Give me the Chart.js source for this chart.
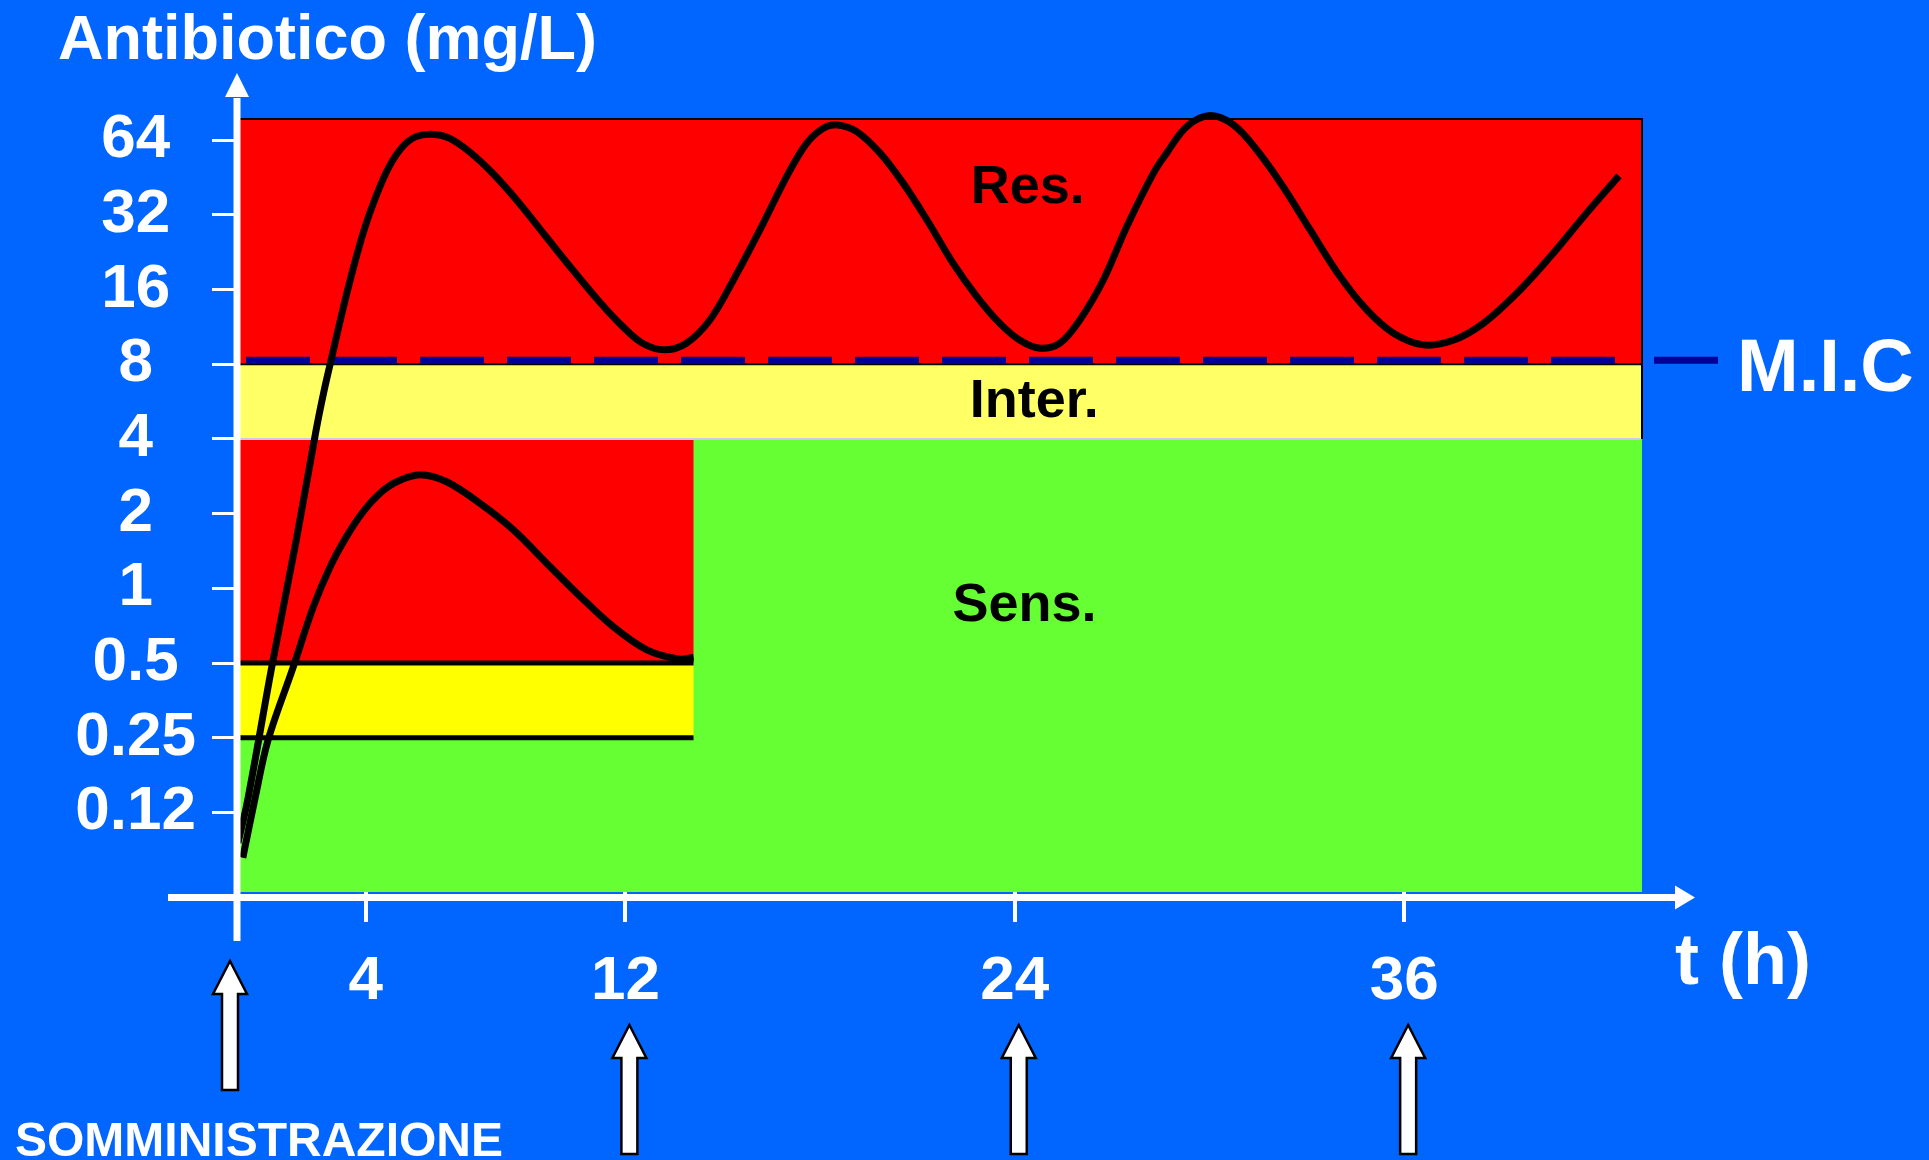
<!DOCTYPE html>
<html><head><meta charset="utf-8">
<style>html,body{margin:0;padding:0;background:#0066FF;overflow:hidden}canvas{display:block}</style>
<script src="https://cdn.jsdelivr.net/npm/chart.js@4.4.0/dist/chart.umd.min.js"></script>
</head><body>
<canvas id="c" width="1929" height="1160" style="width:1929px;height:1160px"></canvas>
<script>
// ---------- data ----------
const xTickValues = [4, 12, 24, 36];
const yTickValues = [0.125, 0.25, 0.5, 1, 2, 4, 8, 16, 32, 64];
const yTickLabels = ['0.12', '0.25', '0.5', '1', '2', '4', '8', '16', '32', '64'];
const doseTimes = [0, 12, 24, 36];
const micValue = 8;
const breakpointsR = [4, 8];        // Sens. < 4 , Inter. 4-8 , Res. > 8
const breakpointsS = [0.25, 0.5];   // breakpoints of the first (sensitive) panel
const sensPanelEnd = 14.1;          // h
const zoneNames = ['Res.', 'Inter.', 'Sens.'];

// curve reaching the "Res." zone (repeated doses every 12 h)
const timeR = [0.06, 0.36, 1.10, 1.86, 2.47, 2.72, 2.98, 3.29, 3.60, 3.95, 4.31, 4.72, 5.14, 5.55, 6.04, 6.57, 7.19, 7.91, 8.73, 9.55, 10.38, 11.20, 11.92, 12.53, 13.20, 13.88, 14.61, 15.33, 16.15, 16.97, 17.59, 18.10, 18.54, 19.13, 19.85, 20.56, 21.29, 22.10, 22.83, 23.54, 24.16, 24.78, 25.39, 26.01, 26.73, 27.45, 28.27, 28.68, 29.30, 30.02, 30.74, 31.46, 32.27, 33.10, 34.02, 34.85, 35.66, 36.59, 37.51, 38.44, 39.48, 40.50, 41.53, 42.62];
const concR = [0.094, 0.14, 0.48, 1.57, 4.35, 6.31, 8.87, 13.25, 19.2, 27.9, 37.9, 50.1, 60.4, 66.2, 67.7, 65.3, 57.6, 47.1, 35.7, 26.2, 19.2, 14.3, 11.35, 9.73, 9.15, 9.73, 12.1, 17.5, 27.9, 45.7, 62.3, 71.6, 73.8, 69.4, 56.8, 43.0, 30.6, 20.4, 15.0, 11.7, 10.0, 9.29, 9.73, 12.1, 17.5, 28.7, 47.1, 56.8, 72.7, 80.5, 73.8, 58.5, 41.6, 27.9, 18.1, 13.25, 10.7, 9.58, 10.0, 11.7, 15.5, 21.7, 31.5, 46.0];

// single-dose curve of the first panel
const timeS = [0.21, 0.59, 0.99, 1.76, 2.38, 2.90, 3.41, 3.92, 4.44, 4.95, 5.67, 6.49, 7.52, 8.55, 9.58, 10.60, 11.63, 12.66, 13.68, 14.10];
const concS = [0.082, 0.143, 0.245, 0.48, 0.84, 1.22, 1.62, 2.04, 2.42, 2.69, 2.87, 2.69, 2.20, 1.72, 1.26, 0.93, 0.70, 0.565, 0.518, 0.528];

// ---------- drawing ----------
const FONT = '"Liberation Sans", Arial, sans-serif';
Chart.defaults.font.family = FONT;

function drawUpArrow(ctx, cx, tip, bottom) {
  ctx.beginPath();
  ctx.moveTo(cx, tip);
  ctx.lineTo(cx + 17, tip + 33);
  ctx.lineTo(cx + 8, tip + 33);
  ctx.lineTo(cx + 8, bottom);
  ctx.lineTo(cx - 8, bottom);
  ctx.lineTo(cx - 8, tip + 33);
  ctx.lineTo(cx - 17, tip + 33);
  ctx.closePath();
  ctx.fillStyle = '#FFFFFF';
  ctx.fill();
  ctx.strokeStyle = '#000000';
  ctx.lineWidth = 2.5;
  ctx.stroke();
}

const overlay = {
  id: 'overlay',
  beforeDraw(chart) {
    const {ctx, width, height} = chart;
    ctx.save();
    ctx.fillStyle = '#0066FF';
    ctx.fillRect(0, 0, width, height);
    ctx.restore();
  },
  beforeDatasetsDraw(chart) {
    const {ctx, chartArea: a, scales: {x, y}} = chart;
    const X = v => x.getPixelForValue(v), Y = v => y.getPixelForValue(v);
    const xL = a.left, xR = a.right, xM = X(sensPanelEnd);
    const yTop = a.top, yBot = a.bottom;
    const yRes = Y(breakpointsR[1]), ySen = Y(breakpointsR[0]);
    const yHi = Y(breakpointsS[1]), yLo = Y(breakpointsS[0]);
    ctx.save();
    ctx.fillStyle = '#FF0000'; ctx.fillRect(xL, yTop, xR - xL, yRes - yTop);
    ctx.fillStyle = '#FFFF66'; ctx.fillRect(xL, yRes, xR - xL, ySen - yRes);
    ctx.fillStyle = '#66FF33'; ctx.fillRect(xL, ySen, xR - xL, yBot - ySen);
    ctx.fillStyle = '#FF0000'; ctx.fillRect(xL, ySen, xM - xL, yHi - ySen);
    ctx.fillStyle = '#FFFF00'; ctx.fillRect(xL, yHi, xM - xL, yLo - yHi);
    // borders
    ctx.strokeStyle = '#000000'; ctx.lineWidth = 2;
    ctx.beginPath();
    ctx.moveTo(xL, yTop); ctx.lineTo(xR, yTop); ctx.lineTo(xR, ySen);
    ctx.moveTo(xL, yRes); ctx.lineTo(xR, yRes);
    ctx.stroke();
    ctx.strokeStyle = '#C8C8F0'; ctx.lineWidth = 2;
    ctx.beginPath(); ctx.moveTo(xL, ySen); ctx.lineTo(xR - 2, ySen); ctx.stroke();
    // breakpoint lines of the first panel
    ctx.strokeStyle = '#000000'; ctx.lineWidth = 5;
    ctx.beginPath();
    ctx.moveTo(xL - 1, yHi); ctx.lineTo(xM, yHi);
    ctx.moveTo(xL - 1, yLo); ctx.lineTo(xM, yLo);
    ctx.stroke();
    // MIC line
    const yM = Y(micValue) - 4;
    ctx.strokeStyle = '#000099'; ctx.lineWidth = 7;
    ctx.setLineDash([64, 23]);
    ctx.beginPath(); ctx.moveTo(xL + 10, yM); ctx.lineTo(xR - 6, yM); ctx.stroke();
    ctx.setLineDash([]);
    ctx.beginPath(); ctx.moveTo(xR + 12, yM); ctx.lineTo(xR + 76, yM); ctx.stroke();
    // zone labels
    ctx.fillStyle = '#000000';
    ctx.font = 'bold 54px ' + FONT;
    ctx.textAlign = 'center'; ctx.textBaseline = 'middle';
    ctx.fillText(zoneNames[0], X(24.4), Y(41));
    ctx.fillText(zoneNames[1], X(24.6), Y(Math.sqrt(breakpointsR[0] * breakpointsR[1])));
    ctx.fillText(zoneNames[2], X(24.3), Y(0.85));
    ctx.restore();
  },
  afterDraw(chart) {
    const {ctx, chartArea: a, scales: {x, y}} = chart;
    ctx.save();
    ctx.strokeStyle = '#FFFFFF'; ctx.fillStyle = '#FFFFFF';
    ctx.lineWidth = 7;
    // x axis with arrow
    const ay = a.bottom + 5.5;
    ctx.beginPath(); ctx.moveTo(a.left - 68, ay); ctx.lineTo(a.right + 34, ay); ctx.stroke();
    ctx.beginPath();
    ctx.moveTo(a.right + 33, ay - 12); ctx.lineTo(a.right + 53, ay); ctx.lineTo(a.right + 33, ay + 12);
    ctx.closePath(); ctx.fill();
    // y axis with arrow
    const ax = a.left + 1;
    ctx.beginPath(); ctx.moveTo(ax, a.bottom + 49); ctx.lineTo(ax, a.top - 21); ctx.stroke();
    ctx.beginPath();
    ctx.moveTo(ax - 12, a.top - 22); ctx.lineTo(ax, a.top - 46); ctx.lineTo(ax + 12, a.top - 22);
    ctx.closePath(); ctx.fill();
    // dose arrows
    doseTimes.forEach((t, i) => {
      const cx = x.getPixelForValue(t) + (i === 0 ? -6 : 4);
      const tip = a.bottom + (i === 0 ? 69 : 133);
      drawUpArrow(ctx, cx, tip, tip + 129);
    });
    // texts
    ctx.fillStyle = '#FFFFFF';
    ctx.textAlign = 'left'; ctx.textBaseline = 'alphabetic';
    ctx.font = 'bold 72px ' + FONT;
    ctx.fillText('t (h)', a.right + 33, a.bottom + 92);
    ctx.font = 'bold 74px ' + FONT;
    ctx.fillText('M.I.C', a.right + 95, y.getPixelForValue(micValue) + 27);
    ctx.font = 'bold 48px ' + FONT;
    ctx.fillText('SOMMINISTRAZIONE', 15, 1156);
    ctx.restore();
  }
};

new Chart(document.getElementById('c'), {
  type: 'line',
  data: {
    datasets: [
      {
        data: timeR.map((t, i) => ({x: t, y: concR[i]})),
        borderColor: '#000000', borderWidth: 7, pointRadius: 0,
        tension: 0.35, fill: false, clip: false
      },
      {
        data: timeS.map((t, i) => ({x: t, y: concS[i]})),
        borderColor: '#000000', borderWidth: 7, pointRadius: 0,
        tension: 0.35, fill: false, clip: false
      }
    ]
  },
  options: {
    responsive: false,
    animation: false,
    events: [],
    layout: {padding: {left: 58, right: 287, top: 0, bottom: 0}},
    plugins: {
      legend: {display: false},
      tooltip: {enabled: false},
      title: {
        display: true,
        text: 'Antibiotico (mg/L)',
        align: 'start',
        color: '#FFFFFF',
        font: {size: 63, weight: 'bold', lineHeight: 1.12},
        padding: {top: 6, bottom: 42.4}
      }
    },
    scales: {
      x: {
        type: 'linear',
        min: 0, max: 43.33,
        bounds: 'data',
        afterFit: s => { s.height = 268; },
        afterBuildTicks: s => { s.ticks = xTickValues.map(v => ({value: v})); },
        border: {display: false},
        grid: {drawOnChartArea: false, drawTicks: true, tickLength: 30, color: '#FFFFFF', lineWidth: 4},
        ticks: {
          color: '#FFFFFF', autoSkip: false, maxRotation: 0, padding: 23,
          font: {size: 62, weight: 'bold'}
        }
      },
      y: {
        type: 'logarithmic',
        min: 0.0597, max: 78,
        bounds: 'data',
        afterFit: s => { s.width = 178; },
        afterBuildTicks: s => { s.ticks = yTickValues.map(v => ({value: v})); },
        border: {display: false},
        grid: {drawOnChartArea: false, drawTicks: true, tickLength: 24, color: '#FFFFFF', lineWidth: 3},
        ticks: {
          color: '#FFFFFF', autoSkip: false, padding: 16, crossAlign: 'center',
          font: {size: 62, weight: 'bold'},
          callback: (v, i) => yTickLabels[i]
        }
      }
    }
  },
  plugins: [overlay]
});
</script>
</body></html>
